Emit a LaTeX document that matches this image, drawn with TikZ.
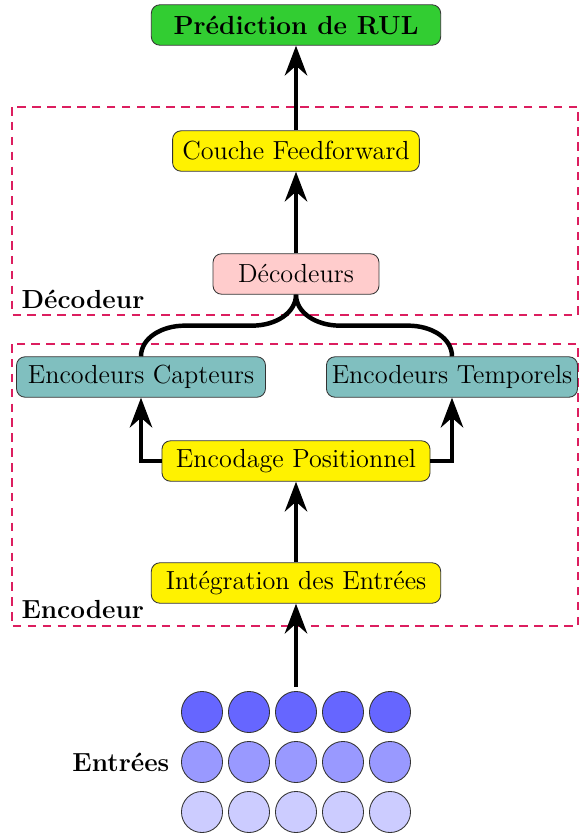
\documentclass[tikz,border=0pt]{standalone}
\usepackage{tikz}
\usetikzlibrary{arrows.meta,positioning}

\definecolor{predgreen}{RGB}{50,205,50}
\definecolor{frameline}{RGB}{220,30,95}

\begin{document}
\begin{tikzpicture}[x=0.47pt,y=-0.47pt,
	block/.style={draw=black!80,rounded corners=4pt,font=\fontsize{12.3}{15}\selectfont,minimum height=19pt,inner xsep=1.5pt},
	frame/.style={draw=frameline,dash pattern=on 4pt off 3pt,line width=0.5pt},
	tag/.style={font=\fontsize{12.3}{15}\selectfont\bfseries},
	arrow/.style={line width=2.1pt,-{Stealth[length=14pt,width=10.5pt]}},
	link/.style={line width=2.1pt},
	dot/.style={circle,draw=black!80,minimum size=19.3pt,inner sep=0pt}]
\useasboundingbox (0,0) rectangle (580,834);

\draw[frame] (12,107) rectangle (578,315);
\draw[frame] (12,344) rectangle (578,626);
\node[tag,anchor=west] (DecTag) at (14,299) {Décodeur};
\node[tag,anchor=west] (EncTag) at (14,609) {Encodeur};

\node[block,fill=predgreen,font=\fontsize{12.3}{15}\selectfont\bfseries,minimum width=136pt] (pred) at (296,25) {Prédiction de RUL};
\node[block,fill=yellow,minimum width=116pt] (feed) at (296,151) {Couche Feedforward};
\node[block,fill=red!20,minimum width=78pt] (dec) at (296,274) {Décodeurs};
\node[block,fill=teal!50,minimum width=117pt] (capt) at (141,377) {Encodeurs Capteurs};
\node[block,fill=teal!50,minimum width=118pt] (temp) at (452,377) {Encodeurs Temporels};
\node[block,fill=yellow,minimum width=126pt] (pos) at (296,461) {Encodage Positionnel};
\node[block,fill=yellow,minimum width=136pt] (integ) at (296,583) {Intégration des Entrées};

\foreach \r/\c in {1/60,2/40,3/20}
	\foreach \i in {1,...,5}
		\node[dot,fill=blue!\c] (c\r\i) at ({155+47*\i},{662+50*\r}) {};
\node[tag,left=2pt of c21] (inputs) {Entrées};

\draw[arrow,shorten <=2pt] (c13.north) -- (integ.south);
\draw[arrow] (integ.north) -- (pos.south);
\draw[arrow] (pos.west) -| (capt.south);
\draw[arrow] (pos.east) -| (temp.south);
\draw[link] (dec.south) .. controls +(0,18) and +(24,0) .. ++(-44,31) -- ++(-67,0)
	.. controls +(-24,0) and +(0,-18) .. (capt.north);
\draw[link] (dec.south) .. controls +(0,18) and +(-24,0) .. ++(44,31) -- ++(68,0)
	.. controls +(24,0) and +(0,-18) .. (temp.north);
\draw[arrow] (dec.north) -- (feed.south);
\draw[arrow] (feed.north) -- (pred.south);

\end{tikzpicture}
\end{document}
